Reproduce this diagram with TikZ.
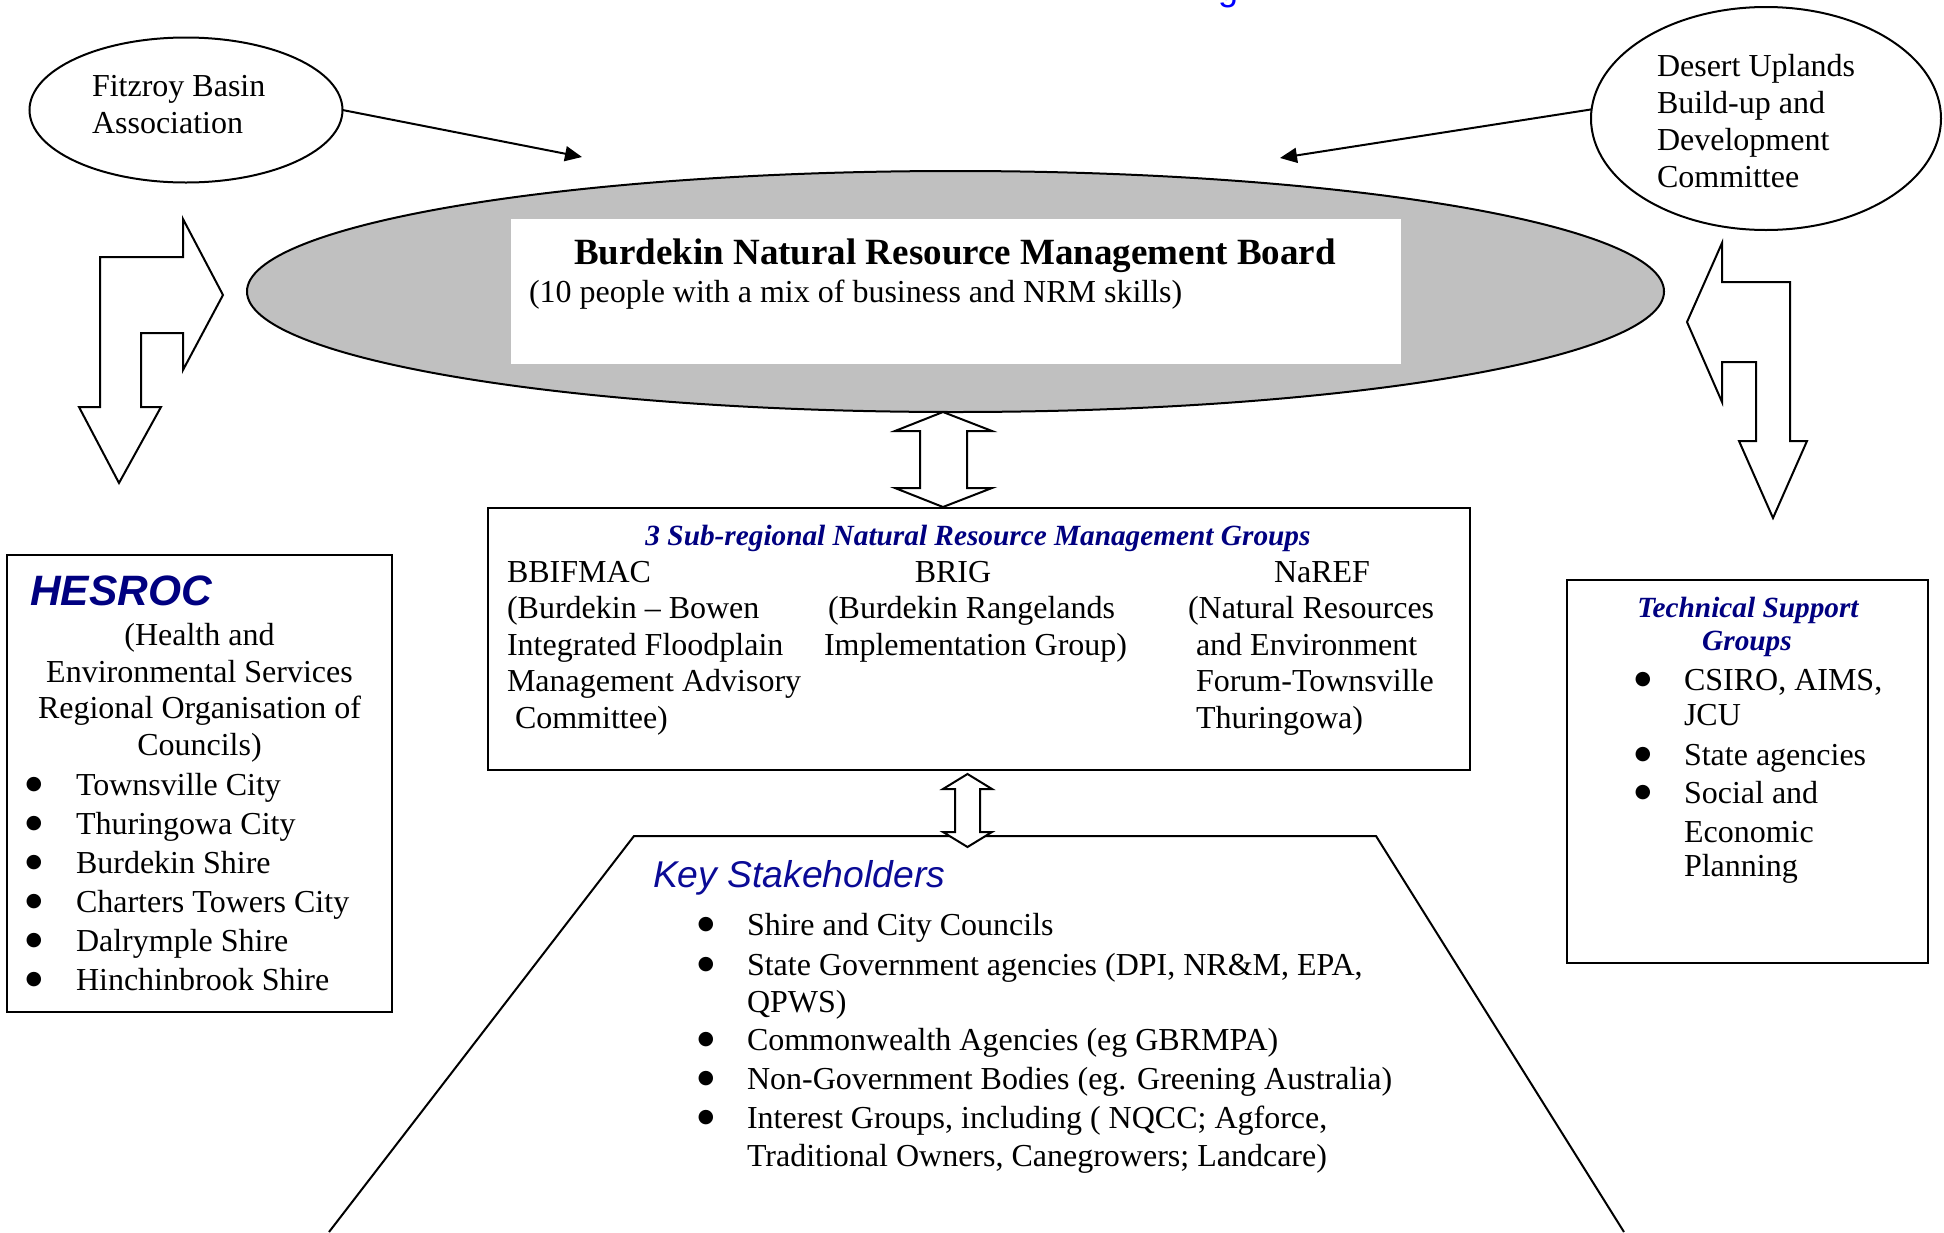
\documentclass[tikz,border=0pt]{standalone}
\usepackage{fontspec}
\setmainfont{Liberation Serif}
\newfontfamily\arialfont{Liberation Sans}
\newfontfamily\dejavu{DejaVu Sans}
\usetikzlibrary{arrows.meta,shapes.geometric}
\definecolor{navy}{RGB}{0,0,128}
\definecolor{keyblue}{RGB}{10,10,150}
\definecolor{silverfill}{RGB}{192,192,192}
\definecolor{titleblue}{RGB}{0,0,255}
\newcommand\bodyfont{\fontsize{32}{37}\selectfont}
\newcommand\bulfont{\dejavu\fontsize{19}{20}\selectfont}
\newcommand\headfont{\fontsize{29.3}{34}\selectfont\bfseries\itshape\color{navy}}
\begin{document}
\begin{tikzpicture}[x=1pt,y=-1pt,
  every node/.style={inner sep=0pt, outer sep=0pt},
  ln/.style={line width=2pt},
  tl/.style={anchor=base west,font=\bodyfont},
  tc/.style={anchor=base,font=\bodyfont},
  bul/.style={anchor=center,font=\bulfont,yshift=10pt},
  hd/.style={anchor=base,font=\headfont},
  conn/.style={line width=2pt,-{Triangle[length=17pt,width=15pt]}},
  blk/.style={line width=2pt,fill=white,line join=miter,draw=black}]

\useasboundingbox (0,0) rectangle (1944,1232);
\clip (0,0) rectangle (1944,1232);

% fragment of the cut-off title
\node[anchor=base,font=\arialfont\fontsize{36}{40}\selectfont,text=titleblue] (ttl) at (1228,0) {g};

% ---- top ellipses
\node[ellipse,draw,ln,minimum width=313pt,minimum height=145pt] (fitz) at (186,110) {};
\node[tl] (fitz1) at (92,96) {Fitzroy Basin};
\node[tl] (fitz2) at (92,133) {Association};

\node[ellipse,draw,ln,minimum width=350pt,minimum height=223pt] (desert) at (1766,118.5) {};
\node[tl] (des1) at (1657,76.5) {Desert Uplands};
\node[tl] (des2) at (1657,113.5) {Build-up and};
\node[tl] (des3) at (1657,150.5) {Development};
\node[tl] (des4) at (1657,187.5) {Committee};

% ---- board
\node[ellipse,draw,ln,fill=silverfill,minimum width=1417pt,minimum height=241pt] (board) at (955.5,291.5) {};
\node[fill=white,minimum width=890pt,minimum height=145pt] (boardbox) at (955.5,291.5) {};
\node[anchor=base,font=\fontsize{37}{42}\selectfont\bfseries] (boardtitle) at (955,264) {Burdekin Natural Resource Management Board};
\node[tl] (boardsub) at (529,302) {(10 people with a mix of business and NRM skills)};

% ---- arrows from the ellipses
\coordinate (fitzend) at (582,157);
\draw[conn] (fitz.east) -- (fitzend);
\coordinate (desertend) at (1280,158);
\draw[conn] (desert.177) -- (desertend);

% ---- bent block arrows
\draw[blk] (100,407) -- (100,257) -- (183,257) -- (183,219) -- (223,295) -- (183,370)
  -- (183,333) -- (141,333) -- (141,407) -- (161,407) -- (119,483) -- (79,407) -- cycle;
\draw[blk] (1722,282) -- (1790,282) -- (1790,441) -- (1807,441) -- (1773,518) -- (1739,441)
  -- (1756,441) -- (1756,362) -- (1722,362) -- (1722,402) -- (1687,322) -- (1722,243) -- cycle;

% ---- HESROC box
\node[draw,ln,minimum width=385pt,minimum height=457pt] (hesroc) at (199.5,783.5) {};
\node[anchor=base west,font=\arialfont\fontsize{42.5}{48}\selectfont\bfseries\itshape,text=navy] (hesrocT) at (30,605) {HESROC};
\node[tc] (hl1) at (199.5,645) {(Health and};
\node[tc] (hl2) at (199.5,682) {Environmental Services};
\node[tc] (hl3) at (199.5,718) {Regional Organisation of};
\node[tc] (hl4) at (199.5,755) {Councils)};
\foreach \t [count=\i] in {Townsville City, Thuringowa City, Burdekin Shire, Charters Towers City, Dalrymple Shire, Hinchinbrook Shire}{
  \node[bul] (hb\i) at (34,756+39*\i) {●};
  \node[tl] (ht\i) at (76,756+39*\i) {\t};
}

% ---- sub-regional groups box
\node[draw,ln,minimum width=982pt,minimum height=262pt] (groups) at (979,639) {};
\node[hd] (gtitle) at (978,545) {3 Sub-regional Natural Resource Management Groups};
\node[tl] (g11) at (507,582) {BBIFMAC};
\node[tl] (g12) at (507,618) {(Burdekin – Bowen};
\node[tl] (g13) at (507,655) {Integrated Floodplain};
\node[tl] (g14) at (507,691) {Management Advisory};
\node[tl] (g15) at (515,728) {Committee)};
\node[tc] (g21) at (953,582) {BRIG};
\node[tl] (g22) at (828,618) {(Burdekin Rangelands};
\node[tl] (g23) at (824,655) {Implementation Group)};
\node[tl] (g31) at (1274,582) {NaREF};
\node[tl] (g32) at (1188,618) {(Natural Resources};
\node[tl] (g33) at (1196,655) {and Environment};
\node[tl] (g34) at (1196,691) {Forum-Townsville};
\node[tl] (g35) at (1196,728) {Thuringowa)};

% ---- technical support box
\node[draw,ln,minimum width=361pt,minimum height=383pt] (tech) at (1747.5,771.5) {};
\node[hd] (tt1) at (1748,617) {Technical Support};
\node[hd] (tt2) at (1747,650) {Groups};
\node[bul] (tb1) at (1643,690) {●};
\node[bul] (tb2) at (1643,765) {●};
\node[bul] (tb3) at (1643,803) {●};
\node[tl] (tx1) at (1684,690) {CSIRO, AIMS,};
\node[tl] (tx2) at (1684,725) {JCU};
\node[tl] (tx3) at (1684,765) {State agencies};
\node[tl] (tx4) at (1684,803) {Social and};
\node[tl] (tx5) at (1684,842) {Economic};
\node[tl] (tx6) at (1684,876) {Planning};

% ---- key stakeholders trapezoid
\draw[ln] (329,1232) -- (634,836) -- (1376,836) -- (1624,1232);
\node[anchor=base west,font=\arialfont\fontsize{37.3}{41}\selectfont\itshape,text=keyblue] (keyT) at (653,887) {Key Stakeholders};
\node[bul] (kb1) at (706,935) {●};
\node[bul] (kb2) at (706,975) {●};
\node[bul] (kb3) at (706,1050) {●};
\node[bul] (kb4) at (706,1089) {●};
\node[bul] (kb5) at (706,1128) {●};
\node[tl] (k1) at (747,935) {Shire and City Councils};
\node[tl] (k2) at (747,975) {State Government agencies (DPI, NR\&M, EPA,};
\node[tl] (k3) at (747,1012) {QPWS)};
\node[tl] (k4) at (747,1050) {Commonwealth Agencies (eg GBRMPA)};
\node[tl] (k5) at (747,1089) {Non-Government Bodies (eg. Greening Australia)};
\node[tl] (k6) at (747,1128) {Interest Groups, including ( NQCC; Agforce,};
\node[tl] (k7) at (747,1166) {Traditional Owners, Canegrowers; Landcare)};

% ---- vertical double arrows
\draw[blk] (943,412) -- (895,431) -- (920,431) -- (920,488) -- (895,488) -- (943,507)
  -- (992,488) -- (967,488) -- (967,431) -- (992,431) -- cycle;
\draw[blk] (967.5,774) -- (943,789) -- (955,789) -- (955,832) -- (943,832) -- (967.5,847)
  -- (992,832) -- (980,832) -- (980,789) -- (992,789) -- cycle;
\end{tikzpicture}
\end{document}
